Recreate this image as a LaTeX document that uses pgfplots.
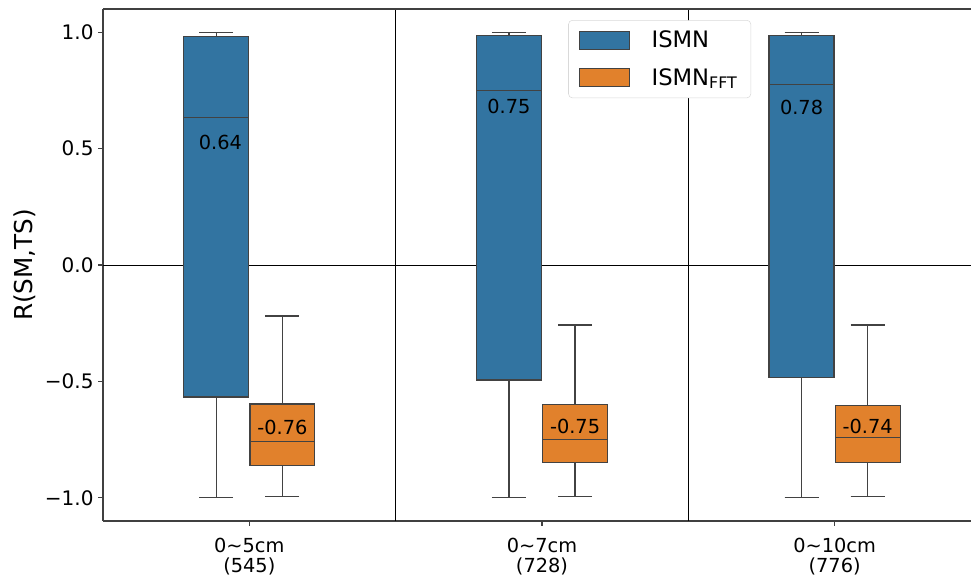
\documentclass[border=0pt]{standalone}
\usepackage{fontspec}
\setmainfont{DejaVu Sans}
\usepackage{pgfplots}
\pgfplotsset{compat=1.18}
\usepgfplotslibrary{statistics}
\definecolor{sbblue}{RGB}{50,116,161}
\definecolor{sborange}{RGB}{225,129,44}
\definecolor{edgegray}{RGB}{66,66,66}
\begin{document}
\begin{tikzpicture}
\begin{axis}[
  name=ax,
  scale only axis,
  width=651pt, height=384pt,
  xmin=-0.5, xmax=2.466,
  ymin=-1.1, ymax=1.1,
  boxplot/draw direction=y,
  axis y line*=left, axis x line*=bottom,
  axis line style={black!75, line width=0.8pt},
  tick align=outside,
  major tick length=3.6pt,
  tick style={black!75, line width=0.8pt},
  xtick={0,1,2},
  xticklabels={{0\textasciitilde5cm\\(545)},{0\textasciitilde7cm\\(728)},{0\textasciitilde10cm\\(776)}},
  xticklabel style={align=center, font=\fontsize{14.5}{14.5}\selectfont, yshift=-6pt},
  ytick={-1,-0.5,0,0.5,1},
  yticklabels={−1.0,−0.5,0.0,0.5,1.0},
  yticklabel style={font=\fontsize{15}{16}\selectfont},
  clip=false,
  legend style={at={(rel axis cs:0.536,0.9785)}, anchor=north west,
    draw=black!15, rounded corners=3pt, font=\fontsize{17}{20}\selectfont,
    row sep=10pt, column sep=14pt, inner xsep=8pt, inner ysep=6pt},
  legend cell align=left,
]
% reference lines
\draw[black, line width=0.6pt] (axis cs:-0.5,0) -- (axis cs:2.466,0);
\draw[black, line width=1.2pt] (axis cs:0.5,-1.1) -- (axis cs:0.5,1.1);
\draw[black, line width=1.2pt] (axis cs:1.5,-1.1) -- (axis cs:1.5,1.1);

\addlegendimage{legend image code/.code={\draw[sharp corners,fill=sbblue,draw=edgegray,line width=0.8pt] (0pt,-6.75pt) rectangle (37.5pt,6.75pt);}}
\addlegendentry{ISMN}
\addlegendimage{legend image code/.code={\draw[sharp corners,fill=sborange,draw=edgegray,line width=0.8pt] (0pt,-6.75pt) rectangle (37.5pt,6.75pt);}}
\addlegendentry{ISMN\textsubscript{FFT}}

% group 0~5cm
\addplot[boxplot prepared={draw position=-0.113, lower whisker=-1.0, lower quartile=-0.567, median=0.635, upper quartile=0.983, upper whisker=1.0, box extend=0.222, whisker extend=0.116}, fill=sbblue, draw=edgegray, line width=0.9pt, forget plot] coordinates {};
\addplot[boxplot prepared={draw position=0.113, lower whisker=-0.996, lower quartile=-0.863, median=-0.760, upper quartile=-0.597, upper whisker=-0.219, box extend=0.222, whisker extend=0.116}, fill=sborange, draw=edgegray, line width=0.9pt, forget plot] coordinates {};
% group 0~7cm
\addplot[boxplot prepared={draw position=0.887, lower whisker=-1.0, lower quartile=-0.494, median=0.751, upper quartile=0.985, upper whisker=1.0, box extend=0.222, whisker extend=0.116}, fill=sbblue, draw=edgegray, line width=0.9pt, forget plot] coordinates {};
\addplot[boxplot prepared={draw position=1.113, lower whisker=-0.996, lower quartile=-0.850, median=-0.750, upper quartile=-0.601, upper whisker=-0.258, box extend=0.222, whisker extend=0.116}, fill=sborange, draw=edgegray, line width=0.9pt, forget plot] coordinates {};
% group 0~10cm
\addplot[boxplot prepared={draw position=1.887, lower whisker=-1.0, lower quartile=-0.485, median=0.777, upper quartile=0.985, upper whisker=1.0, box extend=0.222, whisker extend=0.116}, fill=sbblue, draw=edgegray, line width=0.9pt, forget plot] coordinates {};
\addplot[boxplot prepared={draw position=2.113, lower whisker=-0.996, lower quartile=-0.850, median=-0.740, upper quartile=-0.605, upper whisker=-0.258, box extend=0.222, whisker extend=0.116}, fill=sborange, draw=edgegray, line width=0.9pt, forget plot] coordinates {};

% median labels
\node[font=\fontsize{14.5}{17}\selectfont] at (axis cs:-0.099,0.528) {0.64};
\node[font=\fontsize{14.5}{17}\selectfont] at (axis cs:0.887,0.682) {0.75};
\node[font=\fontsize{14.5}{17}\selectfont] at (axis cs:1.887,0.678) {0.78};
\node[font=\fontsize{14.5}{17}\selectfont] at (axis cs:0.113,-0.700) {-0.76};
\node[font=\fontsize{14.5}{17}\selectfont] at (axis cs:1.113,-0.695) {-0.75};
\node[font=\fontsize{14.5}{17}\selectfont] at (axis cs:2.113,-0.695) {-0.74};
\end{axis}
\draw[black!75, line width=0.8pt] (ax.north west) -- (ax.north east);
\node[rotate=90, font=\fontsize{18.5}{22}\selectfont] at ([xshift=-59pt]ax.west) {R(SM,TS)};
\pgfresetboundingbox
\path[use as bounding box] ([xshift=-77.25pt,yshift=-42.75pt]ax.south west) rectangle ([yshift=6.75pt]ax.north east);
\end{tikzpicture}
\end{document}
